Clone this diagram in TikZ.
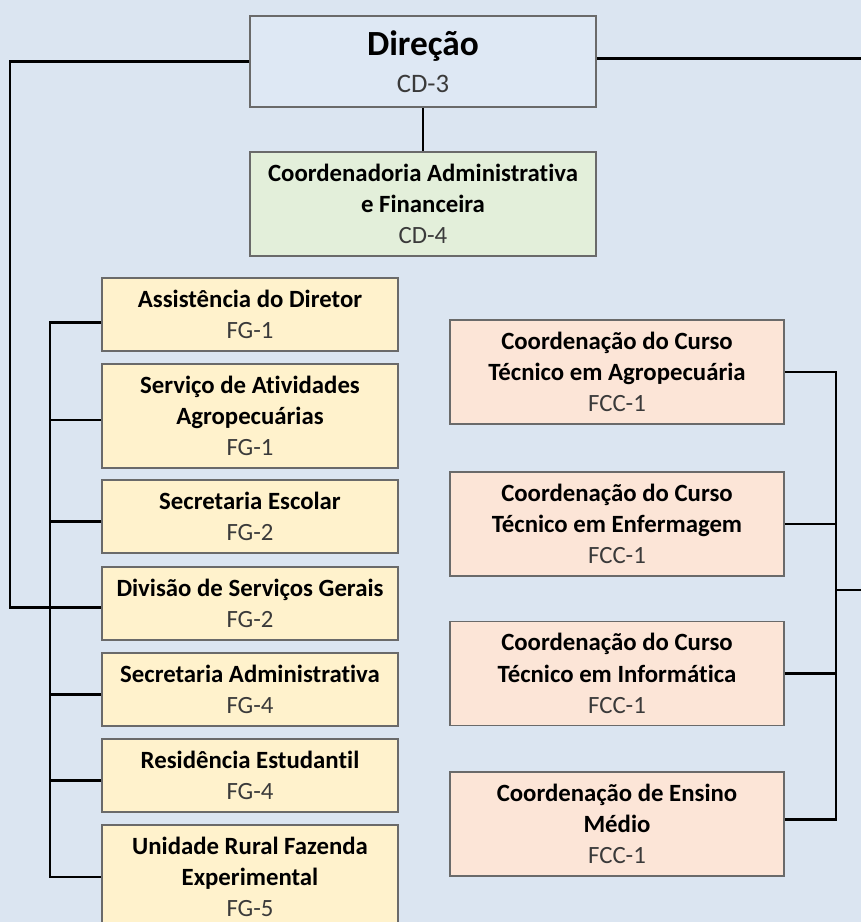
\documentclass[tikz,border=0pt]{standalone}
\usepackage{fontspec}
\setmainfont[Ligatures=CommonOff]{Carlito}
\definecolor{bg}{HTML}{DBE5F1}
\definecolor{dirfill}{HTML}{DEE8F4}
\definecolor{admfill}{HTML}{E3EFDA}
\definecolor{yfill}{HTML}{FFF2CC}
\definecolor{pfill}{HTML}{FCE5D7}
\definecolor{boxline}{HTML}{6A6A6A}
\definecolor{codegray}{HTML}{3A3A3A}
\newcommand{\tcode}[1]{{\mdseries\color{codegray}#1}}
\begin{document}
\begin{tikzpicture}[x=0.75pt,y=-0.75pt,
  box/.style={draw=boxline, line width=1.2pt, align=center, inner sep=0pt,
    font=\bfseries\fontsize{18.6}{23.4}\selectfont, text=black},
  lbox/.style={box, fill=yfill, minimum width=222pt, minimum height=54.75pt},
  lboxt/.style={box, fill=yfill, minimum width=222pt, minimum height=78pt},
  rbox/.style={box, fill=pfill, minimum width=250.5pt, minimum height=78pt},
  conn/.style={draw=black, line width=2.2pt}]
\fill[bg] (0,0) rectangle (861,922);
\useasboundingbox (0,0) rectangle (861,922);

% top
\node[box, fill=dirfill, minimum width=259.5pt, minimum height=68.25pt] (dir) at (423,61.5)
  {{\fontsize{26.5}{30}\selectfont Direção}\\[4pt]{\fontsize{20}{24}\selectfont\tcode{CD-3}}};
\node[box, fill=admfill, minimum width=259.5pt, minimum height=78pt] (adm) at (423,204)
  {Coordenadoria Administrativa\\e Financeira\\\tcode{CD-4}};

% left column
\node[lbox]  (a1) at (250,314.5) {Assistência do Diretor\\\tcode{FG-1}};
\node[lboxt] (a2) at (250,416)   {Serviço de Atividades\\Agropecuárias\\\tcode{FG-1}};
\node[lbox]  (a3) at (250,516.5) {Secretaria Escolar\\\tcode{FG-2}};
\node[lbox]  (a4) at (250,603.5) {Divisão de Serviços Gerais\\\tcode{FG-2}};
\node[lbox]  (a5) at (250,689.5) {Secretaria Administrativa\\\tcode{FG-4}};
\node[lbox]  (a6) at (250,775.5) {Residência Estudantil\\\tcode{FG-4}};
\node[lboxt] (a7) at (250,877)   {Unidade Rural Fazenda\\Experimental\\\tcode{FG-5}};

% right column
\node[rbox] (r1) at (617,372)   {Coordenação do Curso\\Técnico em Agropecuária\\\tcode{FCC-1}};
\node[rbox] (r2) at (617,524)   {Coordenação do Curso\\Técnico em Enfermagem\\\tcode{FCC-1}};
\node[rbox] (r3) at (617,673.5) {Coordenação do Curso\\Técnico em Informática\\\tcode{FCC-1}};
\node[rbox] (r4) at (617,824)   {Coordenação de Ensino\\Médio\\\tcode{FCC-1}};

% helper coordinates
\coordinate (lo) at (10,0);
\coordinate (lb) at (50,0);
\coordinate (rb) at (836,0);
\coordinate (re) at (861,0);
\coordinate (rj) at (836,590);
\coordinate (rjend) at (861,590);

% connectors
\draw[conn] (dir.south) -- (adm.north);
\draw[conn] (dir.west) -| ([yshift=-3pt]lo |- a4.west) -- ([yshift=-3pt]a4.west);
\draw[conn] ([yshift=2pt]dir.east) -- ([yshift=2pt]dir.east -| re);

\draw[conn] ([yshift=-6pt]a1.west) -- ([yshift=-6pt]a1.west -| lb) -- (a7.west -| lb) -- (a7.west);
\draw[conn] ([yshift=-3pt]a2.west) -- ([yshift=-3pt]a2.west -| lb);
\foreach \n in {a3,a5,a6} \draw[conn] ([yshift=-3.5pt]\n.west) -- ([yshift=-3.5pt]\n.west -| lb);

\draw[conn] (r1.east) -- (r1.east -| rb) -- ([yshift=3.5pt]r4.east -| rb) -- ([yshift=3.5pt]r4.east);
\foreach \n in {r2,r3} \draw[conn] (\n.east) -- (\n.east -| rb);
\draw[conn] (rj) -- (rjend);
\end{tikzpicture}
\end{document}
